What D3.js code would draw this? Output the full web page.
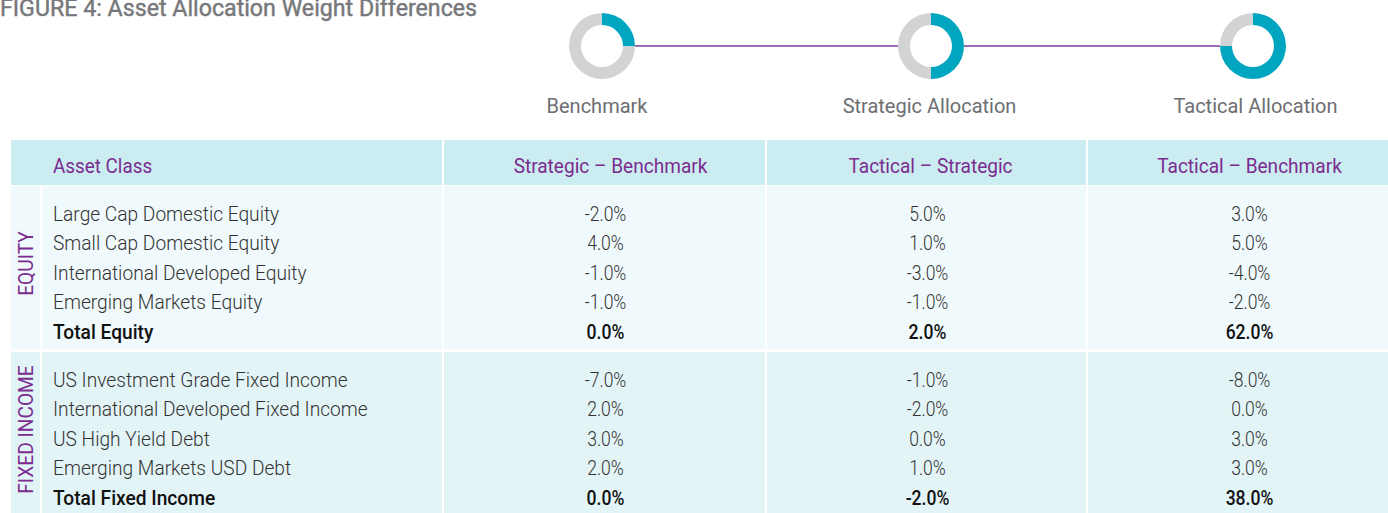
<!DOCTYPE html>
<html>
<head>
<meta charset="utf-8">
<script src="https://cdn.jsdelivr.net/npm/d3@7"></script>
<style>
  body { margin: 0; background: #fff; }
  svg { display: block; font-family: Roboto, sans-serif; }
</style>
</head>
<body>
<div class="weightTable"></div>
<script>
// data
const title = 'FIGURE 4: Asset Allocation Weight Differences';
const portfolios = ['Benchmark', 'Strategic Allocation', 'Tactical Allocation'];
const portfolioShare = [0.25, 0.5, 0.75];
const columns = ['Strategic \u2013 Benchmark', 'Tactical \u2013 Strategic', 'Tactical \u2013 Benchmark'];
const groups = ['EQUITY', 'FIXED INCOME'];
const equityRows = ['Large Cap Domestic Equity', 'Small Cap Domestic Equity', 'International Developed Equity', 'Emerging Markets Equity', 'Total Equity'];
const fixedRows = ['US Investment Grade Fixed Income', 'International Developed Fixed Income', 'US High Yield Debt', 'Emerging Markets USD Debt', 'Total Fixed Income'];
const strategicBenchmark = [-2, 4, -1, -1, 0, -7, 2, 3, 2, 0];
const tacticalStrategic = [5, 1, -3, -1, 2, -1, -2, 0, 1, -2];
const tacticalBenchmark = [3, 5, -4, -2, 62, -8, 0, 3, 3, 38];

const width = 1388, height = 513;
const purple = '#7b2c8f', teal = '#00a6c0', grey = '#d1d3d4';

function weightTable() {
    const svg = d3.select('.weightTable')
        .append('svg')
        .attr('width', width)
        .attr('height', height);

    // title (top is clipped in the original too)
    svg.append('text')
        .attr('x', 0).attr('y', 15.5)
        .attr('font-size', 23.2)
        .attr('fill', '#77787b')
        .attr('stroke', '#77787b').attr('stroke-width', 0.45)
        .text(title);

    // donuts
    const scaleP = d3.scalePoint()
        .domain(portfolios)
        .range([602, 1253]);
    const px = d => d === portfolios[1] ? 931 : scaleP(d);
    const rOut = 33, rIn = 21, cy = 46;

    for (let i = 0; i < portfolios.length - 1; i++) {
        svg.append('line')
            .attr('x1', px(portfolios[i]) + rOut).attr('x2', px(portfolios[i + 1]) - rOut)
            .attr('y1', cy).attr('y2', cy)
            .attr('stroke', '#7d3f98').attr('stroke-width', 1.3);
    }

    const arc = d3.arc().innerRadius(rIn).outerRadius(rOut);
    const pie = d3.pie().sort(null).value(d => d);

    portfolios.forEach((p, i) => {
        const g = svg.append('g').attr('transform', `translate(${px(p)},${cy})`);
        g.selectAll('path')
            .data(pie([portfolioShare[i], 1 - portfolioShare[i]]))
            .join('path')
            .attr('d', arc)
            .attr('fill', (d, j) => j === 0 ? teal : grey);
        svg.append('text')
            .attr('x', px(p) + [-5, -1.5, 2.5][i]).attr('y', 113)
            .attr('text-anchor', 'middle')
            .attr('font-size', 20).attr('fill', '#6d6e71')
            .text(p);
    });

    // table geometry
    const edges = [11, 443, 766, 1087, 1412];
    const colCenter = i => (edges[i + 1] + edges[i + 2]) / 2;

    // header band
    svg.append('rect')
        .attr('x', edges[0]).attr('y', 140)
        .attr('width', edges[4] - edges[0]).attr('height', 45)
        .attr('fill', '#cbecf1');

    const blocks = [
        { name: groups[0], rows: equityRows, top: 186, bottom: 349, fill: '#f0f9fb', offset: 0 },
        { name: groups[1], rows: fixedRows, top: 352, bottom: 520, fill: '#e3f4f7', offset: 5 }
    ];

    blocks.forEach(b => {
        svg.append('rect')
            .attr('x', edges[0]).attr('y', b.top)
            .attr('width', edges[4] - edges[0]).attr('height', b.bottom - b.top)
            .attr('fill', b.fill);
        // separator after group label column
        svg.append('rect')
            .attr('x', 40).attr('y', b.top)
            .attr('width', 2).attr('height', b.bottom - b.top)
            .attr('fill', '#fff');
    });

    // vertical separators between value columns
    [442, 765, 1086].forEach(x => {
        svg.append('rect')
            .attr('x', x).attr('y', 140)
            .attr('width', 2).attr('height', height)
            .attr('fill', '#fff');
    });

    const condensed = (sel, x, y, k) => sel.attr('transform', `translate(${x},${y}) scale(${k},1)`);

    // header text
    condensed(svg.append('text'), 53, 173, 0.92)
        .attr('font-size', 20.5).attr('fill', purple)
        .text('Asset Class');
    columns.forEach((c, i) => {
        condensed(svg.append('text'), colCenter(i) + [6, 4, 0][i], 173, 0.93)
            .attr('text-anchor', 'middle')
            .attr('font-size', 20.5).attr('fill', purple)
            .text(c);
    });

    const series = [strategicBenchmark, tacticalStrategic, tacticalBenchmark];
    const fmt = v => v.toFixed(1) + '%';

    blocks.forEach(b => {
        const scaleY = d3.scaleLinear()
            .domain([0, b.rows.length - 1])
            .range([b.top + 27.5, b.top + 27.5 + 4 * 29.6]);

        // rotated group label
        svg.append('text')
            .attr('transform', `translate(${33},${b.top + 77.5}) rotate(-90) scale(0.96,1)`)
            .attr('text-anchor', 'middle')
            .attr('font-size', 20).attr('fill', purple)
            .text(b.name);

        b.rows.forEach((r, i) => {
            const isTotal = i === b.rows.length - 1;
            const y = scaleY(i) + 7;
            condensed(svg.append('text'), 53, y, 0.935)
                .attr('font-size', 20.5)
                .attr('font-weight', isTotal ? 500 : 300)
                .attr('fill', isTotal ? '#111' : '#333')
                .text(r);
            series.forEach((s, j) => {
                condensed(svg.append('text'), colCenter(j) + [1, 1, 0][j], y, 0.9)
                    .attr('text-anchor', 'middle')
                    .attr('font-size', 19.5)
                    .attr('font-weight', isTotal ? 500 : 300)
                    .attr('fill', isTotal ? '#111' : '#333')
                    .text(fmt(s[b.offset + i]));
            });
        });
    });
}

weightTable();
</script>
</body>
</html>
